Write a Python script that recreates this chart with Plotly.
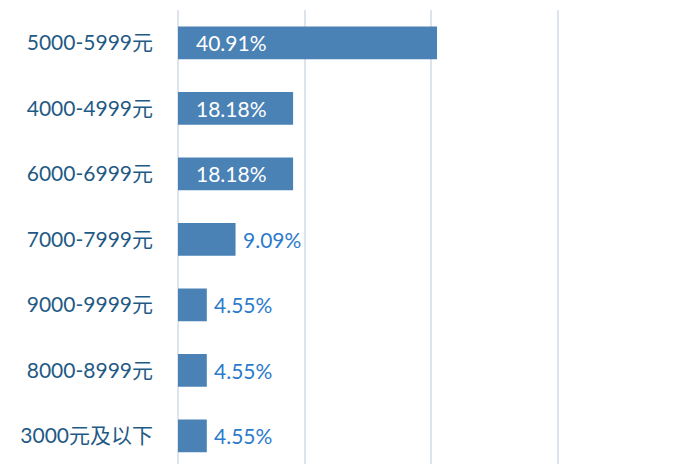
import plotly.graph_objects as go

categories = ["5000-5999元", "4000-4999元", "6000-6999元", "7000-7999元",
              "9000-9999元", "8000-8999元", "3000元及以下"]
values = [40.91, 18.18, 18.18, 9.09, 4.55, 4.55, 4.55]
labels = ["40.91%", "18.18%", "18.18%", "9.09%", "4.55%", "4.55%", "4.55%"]

FONT = "Lato, 'Noto Sans CJK SC', sans-serif"

fig = go.Figure(go.Bar(
    x=values, y=categories, orientation="h",
    marker=dict(color="#4a82b5", line=dict(width=0)),
    hoverinfo="skip",
))

annotations = []
for c, v, t in zip(categories, values, labels):
    if v > 15:
        annotations.append(dict(x=0, y=c, text=t, xanchor="left", xshift=16,
                                showarrow=False,
                                font=dict(family=FONT, size=21, color="white")))
    else:
        annotations.append(dict(x=v, y=c, text=t, xanchor="left", xshift=5,
                                showarrow=False,
                                font=dict(family=FONT, size=21, color="#2b7bcb")))

fig.update_layout(
    width=667, height=456,
    margin=dict(l=170, r=0, t=2, b=0),
    paper_bgcolor="white", plot_bgcolor="white",
    bargap=0.5,
    showlegend=False,
    annotations=annotations,
    xaxis=dict(range=[0, 78.5], dtick=20, showticklabels=False,
               showgrid=True, gridcolor="#dde4ec", gridwidth=2,
               zeroline=True, zerolinecolor="#dde4ec", zerolinewidth=2,
               showline=False, fixedrange=True),
    yaxis=dict(type="category", categoryorder="array", categoryarray=categories,
               range=[6.43, -0.5], showgrid=False, zeroline=False, showline=False,
               ticks="", ticklabelstandoff=24,
               tickfont=dict(family=FONT, size=21, color="#1f5a85")),
)

fig.write_html("out.html")
